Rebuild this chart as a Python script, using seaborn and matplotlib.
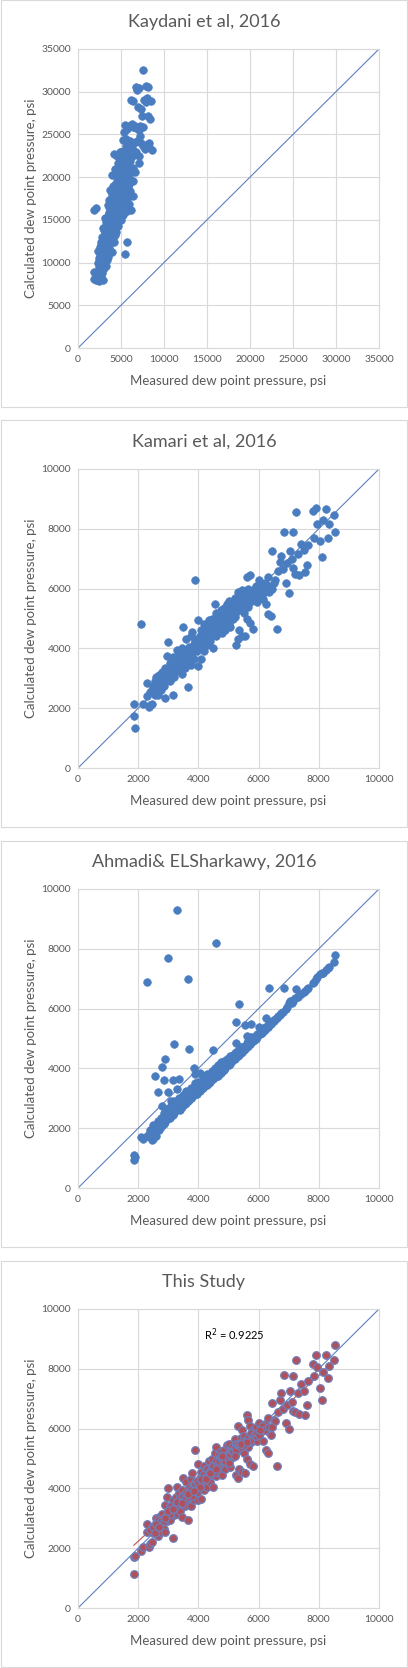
import numpy as np
import pandas as pd
import seaborn as sns
import matplotlib.pyplot as plt
from matplotlib.patches import Rectangle

sns.set_style("white")
plt.rcParams['font.family'] = ['Lato', 'DejaVu Sans']

# measured dew point pressure (same samples in every panel)
measured = [
    1850, 1870, 1880, 2100, 2150, 2300, 2300, 2350, 2400, 2450,
    2450, 2500, 2550, 2600, 2600, 2650, 2700, 2700, 2750, 2800,
    2800, 2850, 2850, 2900, 2900, 2950, 2950, 3000, 3000, 3050,
    3050, 3100, 3150, 3150, 3200, 3200, 3250, 3300, 3300, 3350,
    3350, 3400, 3400, 3450, 3450, 3500, 3500, 3550, 3550, 3600,
    3600, 3650, 3650, 3700, 3700, 3750, 3750, 3800, 3800, 3850,
    3850, 3900, 3900, 3950, 4000, 4000, 4050, 4050, 4100, 4100,
    4150, 4200, 4200, 4250, 4250, 4300, 4350, 4350, 4400, 4400,
    4450, 4500, 4500, 4550, 4550, 4600, 4600, 4650, 4650, 4700,
    4700, 4750, 4750, 4800, 4800, 4850, 4850, 4900, 4900, 4950,
    5000, 5000, 5050, 5050, 5100, 5150, 5200, 5200, 5250, 5250,
    5300, 5300, 5350, 5350, 5400, 5450, 5450, 5500, 5500, 5550,
    5550, 5600, 5600, 5650, 5650, 5700, 5700, 5750, 5800, 5800,
    5850, 5900, 5950, 6000, 6050, 6100, 6150, 6200, 6250, 6300,
    6300, 6350, 6400, 6450, 6500, 6550, 6600, 6650, 6700, 6750,
    6800, 6850, 6900, 6950, 7000, 7050, 7100, 7150, 7150, 7200,
    7250, 7300, 7350, 7400, 7500, 7550, 7600, 7650, 7800, 7850,
    7900, 7950, 8050, 8100, 8150, 8250, 8300, 8350, 8500, 8550,
    2400, 2500, 2550, 2650, 2750, 2850, 2950, 3050, 3100, 3200,
    3250, 3350, 3400, 3500, 3550, 3600, 3700, 3750, 3800, 3900,
    3950, 4000, 4050, 4150, 4200, 4300, 4350, 4450, 4500, 4550,
    4600, 4650, 4700, 4750, 4800, 4850, 4900, 4950, 5000, 5050,
    5100, 5150, 5200, 5250, 5300, 5350, 5400, 5450, 5500, 5600,
    5650, 5700, 5750, 5850, 5900, 5950, 6000, 6100, 6200, 6350,
    2600, 2700, 2900, 3000, 3150, 3300, 3450, 3650, 3850, 4100,
    4250, 4400, 4600, 4800, 5000, 5200, 5400, 5600, 6050, 6450,
]

kaydani = [
    8100, 8900, 16200, 16400, 8000, 9900, 8700, 11300, 7800, 9500,
    10500, 8200, 10200, 11000, 9200, 12000, 9900, 10800, 13000, 8800,
    11500, 10100, 14000, 9800, 12200, 10700, 9300, 13800, 11800, 12600,
    10400, 14200, 11100, 12900, 9600, 13300, 11600, 15200, 12300, 10900,
    14600, 13600, 11900, 16700, 12700, 14900, 10600, 13400, 15800, 12100,
    17300, 14100, 11400, 16100, 13100, 18500, 15400, 12500, 17000, 14400,
    16500, 13900, 18000, 15000, 20200, 17700, 12900, 16000, 19000, 14800,
    17500, 22700, 15600, 20400, 13200, 18700, 16300, 21000, 14700, 19300,
    17800, 22500, 15900, 20000, 18300, 16800, 21700, 19500, 14300, 17200,
    20700, 18900, 15500, 21300, 17600, 19800, 16400, 23000, 18100, 20500,
    16900, 21800, 19200, 22900, 17400, 20900, 24400, 18600, 21400, 16200,
    19700, 23100, 18400, 25300, 20300, 17100, 22200, 19100, 26100, 21500,
    18000, 24500, 20600, 22800, 17800, 25600, 19900, 21200, 23300, 18800,
    22000, 20100, 26000, 21900, 19600, 24200, 22400, 29000, 20800, 23400,
    26200, 21100, 25900, 28900, 22600, 24000, 20600, 26000, 30600, 25700,
    23000, 30200, 24200, 28200, 25800, 21700, 30400, 25500, 22500, 26000,
    24800, 28000, 24000, 27100, 23700, 25900, 32600, 29000, 23300, 30700,
    28800, 23800, 29300, 27100, 30500, 23500, 24000, 26800, 28900, 23200,
    10200, 9000, 11800, 8600, 10600, 12800, 11200, 9400, 13600, 11000,
    14800, 12000, 10300, 13000, 16500, 11700, 14500, 12800, 16200, 11200,
    17600, 13500, 15400, 12400, 18200, 14200, 17000, 13600, 19400, 16000,
    14900, 18000, 16200, 20200, 15200, 18400, 21000, 16600, 19000, 15000,
    20000, 17600, 22000, 15600, 18200, 20700, 16400, 19400, 11000, 17400,
    12400, 18600, 16000, 18200, 16800, 19200, 17800, 18400, 16200, 19500,
    9600, 12400, 8000, 10500, 15200, 13000, 11200, 15800, 13800, 17000,
    16800, 20600, 19800, 22400, 23000, 21200, 22600, 23600, 20600, 17800,
]

kamari = [
    2150, 1750, 1350, 4800, 2150, 2850, 2400, 2050, 2100, 2150,
    2600, 2500, 2900, 3050, 2700, 2450, 2800, 3100, 2600, 3200,
    2900, 3100, 2750, 2350, 3350, 3750, 3000, 4200, 3200, 2900,
    3500, 3300, 2450, 3700, 3400, 3050, 3650, 3950, 3250, 3550,
    3800, 3300, 3650, 4000, 3150, 4700, 3600, 3350, 3900, 3700,
    4300, 2700, 3500, 4050, 3750, 4400, 3450, 3850, 4550, 4150,
    3650, 6300, 4250, 3900, 4950, 3400, 4400, 4100, 3650, 4600,
    4200, 4800, 3900, 4450, 4650, 4100, 4950, 4350, 4700, 4250,
    5000, 4550, 4000, 5500, 4750, 5200, 4400, 4900, 4600, 5100,
    4550, 5300, 4750, 5000, 4500, 5350, 4850, 5150, 4600, 5500,
    5600, 4950, 5250, 4700, 5450, 5000, 5700, 5150, 4100, 5450,
    4300, 5900, 4600, 5300, 5650, 4400, 5950, 5200, 5800, 4400,
    5500, 6400, 5000, 6000, 5400, 6450, 4850, 5600, 4650, 5950,
    5700, 6100, 5550, 6300, 5850, 6000, 5650, 6200, 5500, 6400,
    5150, 5900, 5100, 7250, 6200, 6300, 4650, 6600, 6900, 7100,
    6650, 7900, 6200, 6850, 5850, 7250, 7000, 7900, 6700, 6500,
    8550, 7150, 6450, 7500, 7300, 6550, 6800, 7450, 8600, 7700,
    8700, 8150, 7600, 7050, 8300, 8650, 7700, 8150, 8450, 7900,
    2550, 2750, 2450, 2900, 2950, 2850, 3200, 3100, 3450, 3300,
    3400, 3700, 3500, 3800, 3600, 3900, 3650, 4000, 3700, 4100,
    4300, 4100, 4000, 4500, 4300, 4700, 4500, 4650, 4800, 4500,
    4950, 4750, 4850, 5100, 4900, 5050, 4850, 5000, 5200, 5100,
    5300, 5200, 5400, 5250, 5500, 5450, 5350, 5600, 5400, 5700,
    5750, 5550, 5900, 5850, 5700, 5900, 5750, 6150, 5900, 6100,
    2850, 2650, 3050, 3300, 3250, 3600, 3450, 3750, 3950, 4350,
    4250, 4550, 4700, 5150, 4800, 5050, 5550, 5500, 6000, 6000,
]

ahmadi = [
    1100, 950, 1050, 1700, 1650, 6900, 1750, 1800, 1700, 1600,
    1850, 1650, 3750, 1750, 1900, 3200, 1950, 2000, 2050, 2750,
    4050, 3600, 2150, 4300, 2200, 2500, 2300, 7700, 3200, 2350,
    2450, 2900, 3600, 2450, 4800, 2500, 2600, 9300, 3300, 3650,
    2650, 2700, 2600, 2750, 2700, 2800, 2850, 2800, 2900, 2850,
    3000, 7000, 2900, 4650, 2950, 3000, 3000, 3050, 3100, 4000,
    3100, 3150, 3800, 3150, 3250, 3300, 3850, 3250, 3300, 3350,
    3350, 3400, 3400, 3450, 3500, 3450, 3550, 3500, 3600, 3550,
    3650, 4600, 3650, 3700, 3700, 8200, 3750, 3800, 3750, 3850,
    3800, 3850, 3900, 3950, 3900, 4000, 3950, 4050, 4000, 4100,
    4150, 4100, 4200, 4150, 4250, 4300, 4350, 4300, 5550, 4850,
    4400, 4450, 6150, 4450, 4500, 4550, 4550, 4600, 4650, 5450,
    4650, 5100, 4700, 4750, 4750, 4800, 4800, 5500, 4900, 4900,
    4950, 5000, 5050, 5400, 5150, 5200, 5250, 5300, 5700, 5400,
    5400, 6700, 5500, 5550, 5600, 5650, 5700, 5750, 5800, 5850,
    5900, 6700, 6000, 6050, 6200, 6250, 6200, 6300, 6250, 6350,
    6650, 6400, 6450, 6500, 6550, 6600, 6650, 6700, 6850, 6900,
    7000, 7050, 7150, 7200, 7200, 7300, 7350, 7400, 7550, 7800,
    1950, 2100, 1900, 2250, 2350, 2500, 2650, 2700, 2550, 2900,
    2800, 3000, 2900, 3100, 3050, 3250, 3200, 3350, 3300, 3500,
    3450, 3550, 3500, 3700, 3650, 3800, 3750, 3900, 3850, 4000,
    3950, 4100, 4050, 4200, 4100, 4250, 4200, 4300, 4250, 4400,
    4350, 4450, 4450, 4550, 4550, 4650, 4600, 4700, 4700, 4850,
    4900, 4900, 5050, 5050, 5100, 5150, 5150, 5300, 5400, 5550,
    2000, 2100, 2400, 2500, 2700, 2850, 2950, 3150, 3300, 3500,
    3650, 3800, 3900, 4050, 4300, 4500, 4700, 4800, 5200, 5600,
]

this_study = [
    1150, 1700, 1750, 1900, 2050, 2800, 2550, 2050, 2150, 2200,
    2700, 2500, 2650, 3000, 2850, 2400, 2700, 3050, 2550, 3150,
    2800, 3000, 2650, 2550, 3450, 3700, 2900, 4000, 3100, 2950,
    3400, 3250, 2350, 3600, 3350, 3100, 3700, 4050, 3150, 3500,
    3850, 3250, 3550, 3950, 3050, 4350, 3650, 3400, 3800, 3550,
    4200, 2950, 3450, 4000, 3750, 4300, 3400, 3900, 4500, 4100,
    3600, 5300, 4200, 3850, 4800, 3600, 4350, 4150, 3650, 4550,
    4250, 4750, 3950, 4400, 4650, 4050, 4900, 4300, 4600, 4200,
    5000, 4550, 4050, 5200, 4750, 5400, 4400, 4950, 4600, 5150,
    4500, 5250, 4800, 4950, 4450, 5300, 4850, 5100, 4650, 5450,
    5500, 4950, 5250, 4700, 5400, 5050, 5650, 5150, 4450, 5500,
    4350, 6100, 4650, 5300, 5700, 4550, 5950, 5200, 5750, 4500,
    5450, 6450, 5000, 6300, 5400, 6100, 4800, 5550, 4750, 5950,
    5700, 6050, 5600, 6200, 5850, 6050, 5600, 6150, 5300, 6350,
    5200, 5900, 5800, 6850, 6300, 6250, 4750, 6550, 6950, 7200,
    6650, 7800, 6200, 6800, 6000, 7250, 6900, 7750, 6600, 6550,
    8300, 7200, 6500, 7500, 7250, 6450, 6800, 7600, 8150, 7750,
    8450, 8050, 7350, 6950, 7900, 8450, 7700, 8100, 8300, 8800,
    2600, 2700, 2500, 2950, 2900, 2900, 3150, 3150, 3400, 3350,
    3450, 3650, 3550, 3750, 3650, 3850, 3700, 3950, 3750, 4150,
    4250, 4150, 4050, 4450, 4350, 4650, 4550, 4700, 4750, 4550,
    4900, 4800, 4900, 5050, 4950, 5000, 4900, 5050, 5150, 5150,
    5250, 5250, 5350, 5300, 5450, 5500, 5400, 5550, 5450, 5650,
    5700, 5600, 5850, 5800, 5750, 5850, 5800, 6100, 5950, 6050,
    2800, 2700, 3000, 3250, 3300, 3550, 3500, 3800, 3900, 4300,
    4300, 4500, 4650, 5100, 4850, 5100, 5500, 5550, 5950, 6050,
]

titles = ["Kaydani et al, 2016", "Kamari et al, 2016",
          "Ahmadi& ELSharkawy, 2016", "This Study"]
calculated = [kaydani, kamari, ahmadi, this_study]
limits = [35000, 10000, 10000, 10000]
steps = [5000, 2000, 2000, 2000]

for c in calculated:
    assert len(c) == len(measured)

BLUE = "#4A7CC0"
GRID = "#D9D9D9"
TXT = "#595959"
W, H = 408, 1668

fig = plt.figure(figsize=(W / 100, H / 100), dpi=100)

for i in range(4):
    top = 420 * i
    # panel frame
    fig.add_artist(Rectangle((0.5 / W, 1 - (top + 407) / H), 406 / W, 406.5 / H,
                             transform=fig.transFigure, fill=False,
                             ec=GRID, lw=0.8))
    ax = fig.add_axes([78 / W, 1 - (top + 348) / H, 301 / W, 299 / H])
    df = pd.DataFrame({"measured": measured, "calc": calculated[i]})
    lim = limits[i]

    ax.axline((0, 0), slope=1, color="#5B7FC0", lw=0.8, zorder=1)
    if i == 3:
        sns.scatterplot(data=df, x="measured", y="calc", ax=ax, s=30,
                        color="#B0505C", edgecolor="#6F7FBA", linewidth=0.9,
                        zorder=3)
        sns.regplot(data=df, x="measured", y="calc", ax=ax, scatter=False,
                    ci=None, truncate=True,
                    line_kws=dict(color="#C0504D", lw=0.8, zorder=2))
        ax.text(4200, 9130, "R$^2$ = 0.9225", fontsize=8, color="#000000",
                va="center", ha="left")
    else:
        sns.scatterplot(data=df, x="measured", y="calc", ax=ax, s=30,
                        color=BLUE, edgecolor=BLUE, linewidth=0.5, zorder=3)

    ax.set_xlim(0, lim)
    ax.set_ylim(0, lim)
    ticks = np.arange(0, lim + 1, steps[i])
    ax.set_xticks(ticks)
    ax.set_yticks(ticks)
    ax.grid(True, color=GRID, lw=0.8)
    ax.set_axisbelow(True)
    for sp in ax.spines.values():
        sp.set_color(GRID)
        sp.set_linewidth(0.8)
    ax.tick_params(length=0, labelsize=7.5, labelcolor=TXT, pad=5)
    ax.set_xlabel("Measured dew point pressure, psi", fontsize=9.5,
                  color=TXT, labelpad=8)
    ax.set_ylabel("Calculated dew point pressure, psi", fontsize=9.5,
                  color=TXT, labelpad=3)
    fig.text(204 / W, 1 - (top + 22) / H, titles[i], fontsize=13,
             color=TXT, ha="center", va="center")

fig.savefig("out.png", dpi=100, facecolor="white")
